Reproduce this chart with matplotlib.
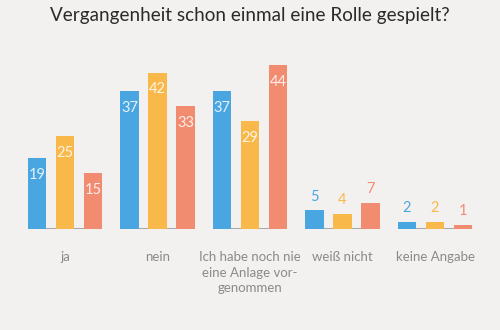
import matplotlib.pyplot as plt
import numpy as np

# Data
categories = ["ja", "nein", "Ich habe noch nie\neine Anlage vor-\ngenommen", "weiß nicht", "keine Angabe"]
series_a = [19, 37, 37, 5, 2]
series_b = [25, 42, 29, 4, 2]
series_c = [15, 33, 44, 7, 1]
title = "Vergangenheit schon einmal eine Rolle gespielt?"

colors = ["#4aa6e0", "#f9b84a", "#f28c70"]
bg = "#f3f1f0"

plt.rcParams['font.family'] = ['Lato', 'DejaVu Sans']

fig = plt.figure(figsize=(5, 3.3), dpi=100)
fig.set_facecolor(bg)
ax = fig.add_axes([0.0375, 0.306, 0.925, 0.5636])
ax.set_facecolor(bg)
ax.set_xlim(-0.5, 4.5)
ax.set_ylim(0, 50)
ax.axis('off')

x = np.arange(len(categories))
step = 0.303
width = 0.2

for k, (vals, col) in enumerate(zip([series_a, series_b, series_c], colors)):
    xs = x + (k - 1) * step
    ax.bar(xs, vals, width=width, color=col, zorder=2)
    for xi, v in zip(xs, vals):
        if v >= 10:
            ax.annotate(str(v), (xi, v), xytext=(0, -12), textcoords="offset points",
                        ha="center", va="center", color="white", fontsize=10.5, alpha=0.85)
        else:
            ax.annotate(str(v), (xi, v), xytext=(0, 10), textcoords="offset points",
                        ha="center", va="center", color=col, fontsize=10.5)

# baseline under each group
ax.hlines(np.zeros(len(x)), x - step - width / 2, x + step + width / 2,
          color="#9a9a9a", lw=1.2, zorder=1)

# category labels
for xi, lab in zip(x, categories):
    ax.annotate(lab, (xi, 0), xytext=(0, -16), textcoords="offset points",
                ha="center", va="top", color="#8a8a8a", fontsize=9.5, linespacing=1.35)

fig.text(0.5, 0.952, title, ha="center", va="center", color="#2a2a2a", fontsize=13.6)

fig.savefig("out.png", dpi=100, facecolor=bg)
